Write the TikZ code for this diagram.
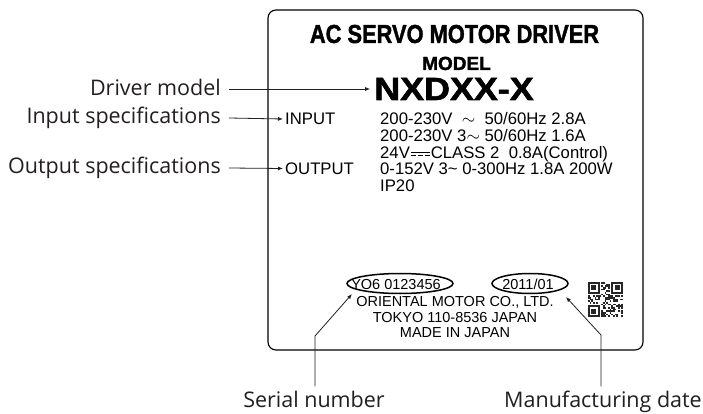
\documentclass[tikz,border=0pt]{standalone}
\usepackage{fontspec}
\setmainfont{Liberation Sans}
\newfontfamily\lblfont{Open Sans}
\newfontfamily\heavyfont[BoldFeatures={FakeBold=1.6}]{Liberation Sans}
\usetikzlibrary{arrows.meta}
\newcommand\dcsym{\mbox{\kern0.05em\rlap{\rule[0.62ex]{1.15em}{0.5pt}}\rule[0.3ex]{0.3em}{0.5pt}\kern0.125em\rule[0.3ex]{0.3em}{0.5pt}\kern0.125em\rule[0.3ex]{0.3em}{0.5pt}\kern0.05em}}
\definecolor{lblcol}{HTML}{231F20}
\begin{document}
\begin{tikzpicture}[x=1pt,y=-1pt,
  lbl/.style={inner sep=0pt, text=lblcol, font=\lblfont\fontsize{21.5}{24}\selectfont},
  plt/.style={inner sep=0pt, font=\fontsize{16.7}{18}\selectfont},
  small/.style={inner sep=0pt, font=\fontsize{14.5}{16}\selectfont},
  arr/.style={draw=lblcol, line width=0.8pt, -{Latex[length=5pt,width=4pt]}},
  plate/.style={draw=black, line width=1.1pt, rounded corners=8pt},
  oval/.style={draw=black, line width=1.5pt},
  qr/.style={fill=black!85}]
\useasboundingbox (0,0) rectangle (703,414);
\fill[white] (0,0) rectangle (703,414);
% plate
\draw[plate] (268,10) rectangle (643,350);
\node[inner sep=0pt, anchor=base] (title) at (454.5,43) {\scalebox{0.84}[1]{\heavyfont\bfseries\fontsize{26}{28}\selectfont AC SERVO MOTOR DRIVER}};
\node[inner sep=0pt, anchor=base] (model) at (456.5,70) {\heavyfont\bfseries\fontsize{19}{22}\selectfont MODEL};
\node[inner sep=0pt, anchor=base] (nx) at (454,100) {\scalebox{1.12}[1]{\heavyfont\bfseries\fontsize{32}{36}\selectfont NXDXX-X}};
\node[plt, anchor=base west] (inp) at (285,125) {INPUT};
\node[plt, anchor=base west] (outp) at (285,174.5) {OUTPUT};
\node[plt, anchor=base west] (s1) at (380,125) {200-230V\ \ $\sim$\ \ 50/60Hz 2.8A};
\node[plt, anchor=base west] (s2) at (380,141.5) {200-230V 3$\sim$ 50/60Hz 1.6A};
\node[plt, anchor=base west] (s3) at (380,158) {24V\dcsym CLASS 2\ \ 0.8A(Control)};
\node[plt, anchor=base west] (s4) at (380,174.5) {0-152V 3\textasciitilde{} 0-300Hz 1.8A 200W};
\node[plt, anchor=base west] (s5) at (380,191) {IP20};
% bottom block
\node[small, anchor=base] (maker) at (455,306) {ORIENTAL MOTOR CO., LTD.};
\node[small, anchor=base] (addr) at (455,322.5) {TOKYO 110-8536 JAPAN};
\node[small, anchor=base] (made) at (455,337.5) {MADE IN JAPAN};
\draw[oval, fill=white] (400,283.5) ellipse [x radius=53, y radius=10];
\draw[oval, fill=white] (530,283.5) ellipse [x radius=38, y radius=10];
\node[small, anchor=base] (serialtxt) at (396,289.5) {YO6 0123456};
\node[small, anchor=base] (datetxt) at (528,289.5) {2011/01};
% QR code
\pgfmathsetseed{7}
\foreach \i in {0,...,20}{\foreach \j in {0,...,20}{
  \pgfmathtruncatemacro\f{(rnd>0.5)&&!((\i<8)&&(\j<8))&&!((\i>12)&&(\j<8))&&!((\i<8)&&(\j>12))}
  \ifnum\f=1 \fill[qr] (588+\i*1.667,282+\j*1.667) rectangle ++(1.667,1.667);\fi}}
\foreach \fx/\fy in {0/0,14/0,0/14}{
  \fill[qr] (588+\fx*1.667,282+\fy*1.667) rectangle ++(11.67,11.67);
  \fill[white] (588+\fx*1.667+1.667,282+\fy*1.667+1.667) rectangle ++(8.33,8.33);
  \fill[qr] (588+\fx*1.667+3.33,282+\fy*1.667+3.33) rectangle ++(5,5);}
% left labels
\node[lbl, anchor=base east] (ldrv) at (221,96) {Driver model};
\node[lbl, anchor=base east] (lin) at (221,124) {Input specifications};
\node[lbl, anchor=base east] (lout) at (221,174) {Output specifications};
\draw[arr] ([shift={(8,-7)}]ldrv.base east) -- ([shift={(-4,-11)}]nx.base west);
\draw[arr] ([shift={(8,-6)}]lin.base east) -- ([shift={(-2,-6)}]inp.base west);
\draw[arr] ([shift={(8,-6)}]lout.base east) -- ([shift={(-2,-6)}]outp.base west);
% bottom labels
\node[lbl, anchor=base] (lser) at (314,407) {Serial number};
\node[lbl, anchor=base] (ldate) at (603,407) {Manufacturing date};
\coordinate (serbend) at (315,336);
\coordinate (sertip) at (352,294);
\coordinate (datebend) at (601,335);
\coordinate (datetip) at (566,297);
\draw[arr] (lser.north -| serbend) ++(0,-4) -- (serbend) -- (sertip);
\draw[arr] (ldate.north -| datebend) ++(0,-4) -- (datebend) -- (datetip);
\end{tikzpicture}
\end{document}
